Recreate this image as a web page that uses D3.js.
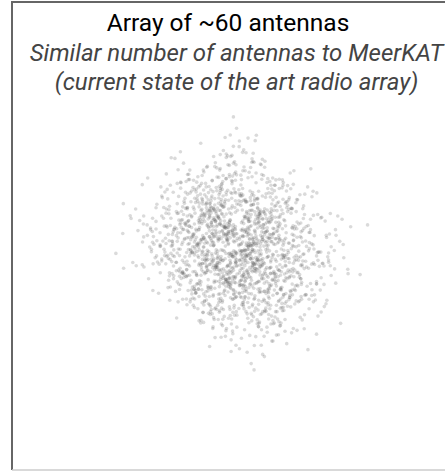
<!DOCTYPE html>
<html><head><meta charset="utf-8">
<script src="https://cdn.jsdelivr.net/npm/d3@7"></script>
<style>html,body{margin:0;background:#fff;overflow:hidden;}svg{display:block;}</style>
</head><body>
<script>
const title = "Array of ~60 antennas";
const subtitleLines = ["Similar number of antennas to MeerKAT", "(current state of the art radio array)"];
// antenna positions (km, relative to array centre)
const antennaX = [0.12,-0.85,1.34,-0.27,0.56,-1.62,0.91,-0.43,0.05,1.78,
-1.11,0.38,-0.69,2.05,-0.18,0.74,-1.95,0.29,-0.52,1.12,
-0.07,0.63,-1.38,0.84,-0.31,1.46,-0.94,0.17,-2.21,0.49,
1.01,-0.61,0.22,-1.24,0.95,-0.15,1.63,-0.78,0.41,-0.36,
-1.52,0.68,-0.02,1.27,-0.88,0.33,-0.47,2.31,-1.03,0.08,
0.79,-0.24,1.15,-1.71,0.54,-0.66,0.27,-0.11,1.42,-0.97];
const antennaY = [-0.44,0.73,0.18,-1.27,1.05,-0.32,0.59,1.41,-0.89,0.26,
-0.05,-1.66,0.92,-0.21,0.37,-0.74,1.19,-1.08,0.48,-0.57,
1.83,-0.13,0.66,-0.96,-1.44,0.08,0.31,1.27,-0.38,-2.02,
0.71,-0.62,1.55,0.14,-0.83,0.44,-1.19,0.02,-0.28,0.87,
1.02,-0.51,-1.35,0.63,-0.09,2.12,-0.71,0.35,-0.18,0.95,
-1.53,0.22,-0.46,0.81,1.36,-0.99,0.11,-0.67,0.53,-0.25];

const W = 445, H = 471;
const svg = d3.select("body").append("svg").attr("width", W).attr("height", H);

// baselines (uv points)
const baselines = [];
for (let i = 0; i < antennaX.length; i++)
  for (let j = i + 1; j < antennaX.length; j++)
    baselines.push({u: antennaX[j] - antennaX[i], v: antennaY[j] - antennaY[i]});

const x = d3.scaleLinear().domain([-6, 6]).range([238 - 172, 238 + 172]);
const y = d3.scaleLinear().domain([-6, 6]).range([248 + 190, 248 - 190]);

svg.append("g").selectAll("circle").data(baselines).join("circle")
  .attr("cx", d => x(d.u)).attr("cy", d => y(d.v)).attr("r", 1.8)
  .attr("fill", "#555").attr("fill-opacity", 0.22);

// frame
svg.append("line").attr("x1", 12).attr("x2", 12).attr("y1", 1).attr("y2", 470)
  .attr("stroke", "#666").attr("stroke-width", 2);
svg.append("line").attr("x1", 11).attr("x2", W).attr("y1", 2).attr("y2", 2)
  .attr("stroke", "#666").attr("stroke-width", 2);
svg.append("line").attr("x1", 12).attr("x2", W).attr("y1", 470).attr("y2", 470)
  .attr("stroke", "#ccc").attr("stroke-width", 1.5);

svg.append("text").attr("x", 228).attr("y", 31).attr("text-anchor", "middle")
  .attr("font-family", "Roboto, sans-serif").attr("font-size", 24.5).attr("fill", "#000")
  .text(title);
svg.append("g").selectAll("text").data(subtitleLines).join("text")
  .attr("x", 236.5).attr("y", (d, i) => 61 + i * 29).attr("text-anchor", "middle")
  .attr("font-family", "Roboto, sans-serif").attr("font-style", "italic")
  .attr("font-size", 24).attr("fill", "#444")
  .text(d => d);
</script>
</body></html>
